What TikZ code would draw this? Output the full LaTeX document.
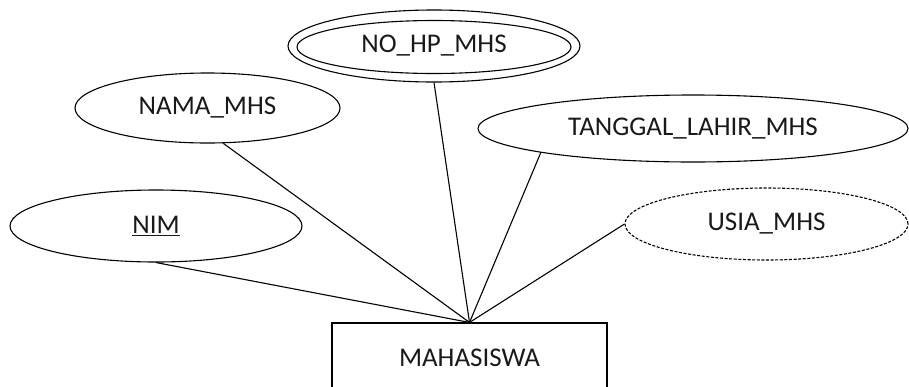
\documentclass[tikz,border=0pt]{standalone}
\usepackage{fontspec}
\setmainfont{Carlito}
\usetikzlibrary{shapes.geometric}
\begin{document}
\begin{tikzpicture}[x=1pt,y=-1pt,
  labelfont/.style={text=black!90,font=\fontsize{27}{31}\selectfont},
  attr/.style={ellipse,draw,line width=1.1pt,inner sep=0pt,labelfont},
  derived/.style={attr,dash pattern=on 3pt off 1.6pt},
  entity/.style={rectangle,draw,line width=1.1pt,inner sep=0pt,labelfont},
  link/.style={line width=1.1pt}]
\useasboundingbox (0,0) rectangle (909,386);

% entity
\node[entity,minimum width=275pt,minimum height=70pt] (mhs) at (469.5,358) {MAHASISWA};

% attributes
\node[attr,minimum width=292pt,minimum height=72pt] (nim) at (156,226) {\underline{NIM}};
\node[attr,minimum width=265pt,minimum height=70pt] (nama) at (207.5,108) {NAMA\_MHS};
\node[attr,minimum width=292pt,minimum height=72pt] (nohp) at (434,46) {NO\_HP\_MHS};
\node[attr,minimum width=274pt,minimum height=53pt] (nohpin) at (434,47) {};
\node[attr,minimum width=430pt,minimum height=67pt] (tgl) at (693,128.5) {TANGGAL\_LAHIR\_MHS};
\node[derived,minimum width=283pt,minimum height=72pt] (usia) at (766.5,224) {USIA\_MHS};

% connectors
\draw[link] (mhs.north) -- (nim.south);
\draw[link] (mhs.north) -- (nama.-66);
\draw[link] (mhs.north) -- (nohp.south);
\draw[link] (mhs.north) -- (tgl.189);
\draw[link] (mhs.north) -- (usia.west);
\end{tikzpicture}
\end{document}
